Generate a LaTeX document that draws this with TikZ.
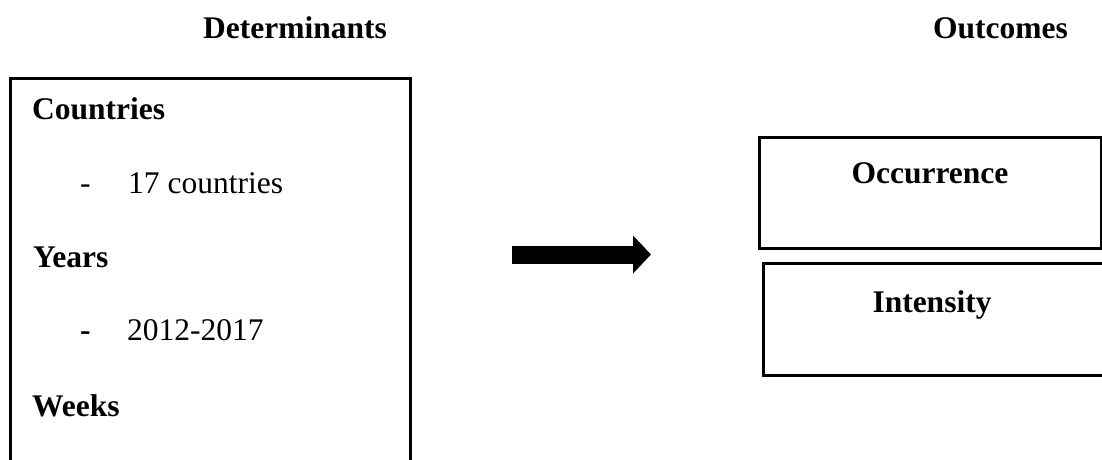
\documentclass[tikz,border=0pt]{standalone}
\usepackage{fontspec}
\setmainfont{Liberation Serif}
\usetikzlibrary{arrows.meta}
\begin{document}
\begin{tikzpicture}[x=1pt,y=-1pt,
  txt/.style={inner sep=0pt, font=\fontsize{31.5}{36}\selectfont},
  btxt/.style={inner sep=0pt, font=\fontsize{31.5}{36}\selectfont\bfseries},
  frame/.style={draw=black, line width=2.5pt, inner sep=0pt},
  bigarrow/.style={line width=18pt, -{Triangle[width=37pt,length=18pt]}}]
\useasboundingbox (0,0) rectangle (1102,459);
\fill[white] (0,0) rectangle (1102,459);
\clip (0,0) rectangle (1102,459);
% headings
\node[btxt, anchor=base] (dh) at (295,38) {Determinants};
\node[btxt, anchor=base] (oh) at (1000.5,38) {Outcomes};
% left box (open at the bottom of the picture)
\node[frame, anchor=north west, minimum width=400pt, minimum height=420pt] (det) at (9,77) {};
\node[btxt, anchor=base west] (c1) at (32,119) {Countries};
\node[txt, anchor=base west] (c2d) at (80,193) {-};
\node[txt, anchor=base west] (c2) at (128,193) {17 countries};
\node[btxt, anchor=base west] (y1) at (33,267) {Years};
\node[btxt, anchor=base west] (y2d) at (80,340) {-};
\node[txt, anchor=base west] (y2) at (127,340) {2012-2017};
\node[btxt, anchor=base west] (w1) at (32,416) {Weeks};
% right boxes
\node[frame, anchor=north west, minimum width=342pt, minimum height=111pt] (occ) at (758,136) {};
\node[btxt, anchor=base] (occt) at (930,183) {Occurrence};
\node[frame, anchor=north west, minimum width=360pt, minimum height=112pt] (int) at (762,262) {};
\node[btxt, anchor=base] (intt) at (932,312) {Intensity};
% arrow
\coordinate (as) at (512,254.5);
\coordinate (ae) at (651,254.5);
\draw[bigarrow] (as) -- (ae);
\end{tikzpicture}
\end{document}
